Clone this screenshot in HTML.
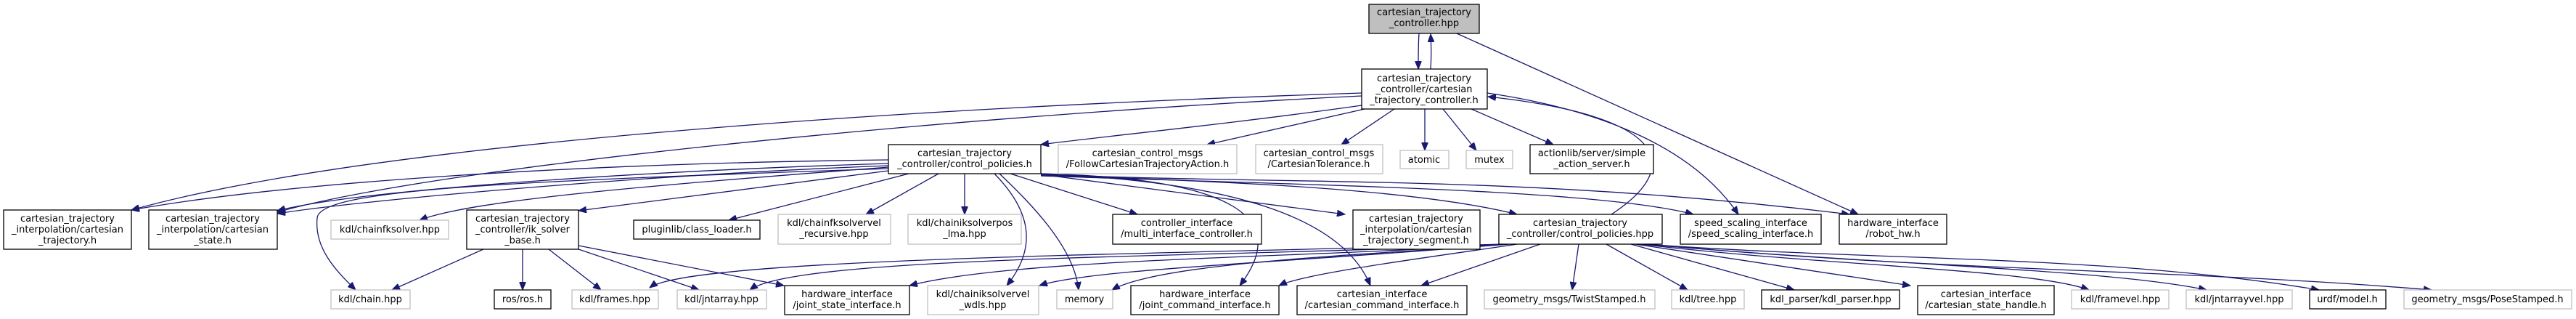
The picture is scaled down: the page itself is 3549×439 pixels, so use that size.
<!DOCTYPE html>
<html><head><meta charset="utf-8"><style>
html,body{margin:0;padding:0;background:#fff;}
svg{display:block;}
text{font-family:"DejaVu Sans","Liberation Sans",sans-serif;font-size:13px;fill:#000;text-anchor:middle;}
.e{fill:none;stroke:#191970;stroke-width:1.3;}
.b{fill:#fff;stroke:#000;stroke-width:1.3;}
.g{fill:#fff;stroke:#bfbfbf;stroke-width:1.3;}
</style></head><body>
<svg width="3549" height="439" viewBox="0 0 3549 439" xmlns="http://www.w3.org/2000/svg">
<defs><marker id="a" markerUnits="userSpaceOnUse" markerWidth="12" markerHeight="9" refX="11" refY="4.5" orient="auto"><path d="M0,0 L11,4.5 L0,9 z" fill="#191970" stroke="#191970"/></marker></defs>
<g marker-end="url(#a)">
<path class="e" d="M1955,46 C1954,60 1954,75 1954,95"/>
<path class="e" d="M1971,95 C1972,80 1972,65 1971,47"/>
<path class="e" d="M2007,46 L2560,295"/>
<path class="e" d="M1876,145 C1700,170 1500,190 1434,199"/>
<path class="e" d="M1880,150 L1663,199"/>
<path class="e" d="M1921,150 L1848,199"/>
<path class="e" d="M1963,150 L1963,207"/>
<path class="e" d="M1988,150 L2034,207"/>
<path class="e" d="M2027,150 L2140,199"/>
<path class="e" d="M1876,128 C1200,150 500,200 181,289"/>
<path class="e" d="M1876,132 C1300,160 600,230 382,292"/>
<path class="e" d="M2049,128 C2200,150 2330,200 2395,295"/>
<path class="e" d="M2220,295 C2320,230 2300,160 2050,133"/>
<path class="e" d="M1224,220 C800,225 400,250 181,289"/>
<path class="e" d="M1224,225 C900,235 500,260 382,290"/>
<path class="e" d="M1224,228 C900,240 500,275 382,294"/>
<path class="e" d="M1224,230 C900,255 650,275 578,303"/>
<path class="e" d="M1224,235 L797,290"/>
<path class="e" d="M1224,232 C700,250 440,260 437,300 C433,340 460,370 490,399"/>
<path class="e" d="M1252,239 L1004,303"/>
<path class="e" d="M1293,239 L1193,295"/>
<path class="e" d="M1329,239 L1329,295"/>
<path class="e" d="M1370,239 C1420,290 1430,340 1387,393"/>
<path class="e" d="M1377,239 C1420,280 1480,340 1486,399"/>
<path class="e" d="M1392,239 L1567,295"/>
<path class="e" d="M1434,239 C1700,245 1780,300 1708,393"/>
<path class="e" d="M1434,240 L1853,295"/>
<path class="e" d="M1434,241 C1700,250 1950,260 2090,295"/>
<path class="e" d="M1434,242 C1800,255 2200,260 2333,295"/>
<path class="e" d="M1434,240 C1800,255 2100,240 2548,295"/>
<path class="e" d="M1434,239 C1700,250 1850,300 1888,393"/>
<path class="e" d="M666,343 L540,399"/>
<path class="e" d="M720,343 L720,399"/>
<path class="e" d="M756,343 L828,399"/>
<path class="e" d="M797,343 L963,399"/>
<path class="e" d="M797,338 L1080,393"/>
<path class="e" d="M2080,336 C1900,350 1600,360 1532,399"/>
<path class="e" d="M2075,336 C1800,360 1500,370 1432,393"/>
<path class="e" d="M2075,336 C1800,355 1400,355 1253,393"/>
<path class="e" d="M2070,336 C1700,355 1100,350 1033,399"/>
<path class="e" d="M2070,336 C1600,350 950,355 895,396"/>
<path class="e" d="M2090,336 C2000,350 1800,375 1762,393"/>
<path class="e" d="M2122,336 L1958,393"/>
<path class="e" d="M2175,336 L2166,399"/>
<path class="e" d="M2213,336 L2325,399"/>
<path class="e" d="M2247,336 L2472,399"/>
<path class="e" d="M2253,336 L2632,393"/>
<path class="e" d="M2260,336 C2500,365 2800,370 2878,399"/>
<path class="e" d="M2262,336 C2600,365 2900,370 3040,399"/>
<path class="e" d="M2265,336 C2600,360 2900,350 3195,399"/>
<path class="e" d="M2268,336 C2700,375 3000,370 3350,399"/>
</g>
<!-- nodes -->
<rect x="1886" y="6" width="152" height="40" fill="#bfbfbf" stroke="#000" stroke-width="1.3"/>
<text x="1962" y="21">cartesian_trajectory</text><text x="1962" y="36">_controller.hpp</text>

<rect class="b" x="1876" y="95" width="173" height="55"/>
<text x="1962" y="112">cartesian_trajectory</text><text x="1962" y="127">_controller/cartesian</text><text x="1962" y="142">_trajectory_controller.h</text>

<rect class="b" x="1224" y="199" width="210" height="40"/>
<text x="1329" y="215">cartesian_trajectory</text><text x="1329" y="230">_controller/control_policies.h</text>
<rect class="g" x="1458" y="199" width="246" height="40"/>
<text x="1581" y="215">cartesian_control_msgs</text><text x="1581" y="230">/FollowCartesianTrajectoryAction.h</text>
<rect class="g" x="1730" y="199" width="175" height="40"/>
<text x="1817" y="215">cartesian_control_msgs</text><text x="1817" y="230">/CartesianTolerance.h</text>
<rect class="g" x="1929" y="207" width="67" height="25"/><text x="1962" y="224">atomic</text>
<rect class="g" x="2020" y="207" width="64" height="25"/><text x="2052" y="224">mutex</text>
<rect class="b" x="2108" y="199" width="170" height="40"/>
<text x="2193" y="215">actionlib/server/simple</text><text x="2193" y="230">_action_server.h</text>

<rect class="b" x="5" y="289" width="176" height="54"/>
<text x="93" y="305">cartesian_trajectory</text><text x="93" y="320">_interpolation/cartesian</text><text x="93" y="335">_trajectory.h</text>
<rect class="b" x="205" y="289" width="177" height="54"/>
<text x="293" y="305">cartesian_trajectory</text><text x="293" y="320">_interpolation/cartesian</text><text x="293" y="335">_state.h</text>
<rect class="g" x="456" y="303" width="162" height="26"/><text x="537" y="320">kdl/chainfksolver.hpp</text>
<rect class="b" x="643" y="289" width="154" height="54"/>
<text x="720" y="305">cartesian_trajectory</text><text x="720" y="320">_controller/ik_solver</text><text x="720" y="335">_base.h</text>
<rect class="b" x="873" y="303" width="174" height="26"/><text x="960" y="320">pluginlib/class_loader.h</text>
<rect class="g" x="1072" y="295" width="155" height="41"/>
<text x="1149" y="311">kdl/chainfksolvervel</text><text x="1149" y="326">_recursive.hpp</text>
<rect class="g" x="1251" y="295" width="156" height="41"/>
<text x="1329" y="311">kdl/chainiksolverpos</text><text x="1329" y="326">_lma.hpp</text>
<rect class="b" x="1533" y="295" width="205" height="41"/>
<text x="1635" y="311">controller_interface</text><text x="1635" y="326">/multi_interface_controller.h</text>
<rect class="b" x="1864" y="289" width="175" height="54"/>
<text x="1951" y="305">cartesian_trajectory</text><text x="1951" y="320">_interpolation/cartesian</text><text x="1951" y="335">_trajectory_segment.h</text>
<rect class="b" x="2065" y="295" width="225" height="41"/>
<text x="2177" y="311">cartesian_trajectory</text><text x="2177" y="326">_controller/control_policies.hpp</text>
<rect class="b" x="2315" y="295" width="194" height="41"/>
<text x="2412" y="311">speed_scaling_interface</text><text x="2412" y="326">/speed_scaling_interface.h</text>
<rect class="b" x="2534" y="295" width="148" height="41"/>
<text x="2608" y="311">hardware_interface</text><text x="2608" y="326">/robot_hw.h</text>

<rect class="g" x="456" y="399" width="109" height="26"/><text x="510" y="416">kdl/chain.hpp</text>
<rect class="b" x="681" y="399" width="78" height="26"/><text x="720" y="416">ros/ros.h</text>
<rect class="g" x="788" y="399" width="119" height="26"/><text x="847" y="416">kdl/frames.hpp</text>
<rect class="g" x="933" y="399" width="123" height="26"/><text x="994" y="416">kdl/jntarray.hpp</text>
<rect class="b" x="1081" y="393" width="172" height="40"/>
<text x="1167" y="409">hardware_interface</text><text x="1167" y="424">/joint_state_interface.h</text>
<rect class="g" x="1278" y="393" width="153" height="40"/>
<text x="1354" y="409">kdl/chainiksolvervel</text><text x="1354" y="424">_wdls.hpp</text>
<rect class="g" x="1456" y="399" width="77" height="26"/><text x="1494" y="416">memory</text>
<rect class="b" x="1558" y="393" width="204" height="40"/>
<text x="1660" y="409">hardware_interface</text><text x="1660" y="424">/joint_command_interface.h</text>
<rect class="b" x="1787" y="393" width="234" height="40"/>
<text x="1904" y="409">cartesian_interface</text><text x="1904" y="424">/cartesian_command_interface.h</text>
<rect class="g" x="2045" y="399" width="235" height="26"/><text x="2162" y="416">geometry_msgs/TwistStamped.h</text>
<rect class="g" x="2303" y="399" width="100" height="26"/><text x="2353" y="416">kdl/tree.hpp</text>
<rect class="b" x="2427" y="399" width="190" height="26"/><text x="2522" y="416">kdl_parser/kdl_parser.hpp</text>
<rect class="b" x="2642" y="393" width="188" height="40"/>
<text x="2736" y="409">cartesian_interface</text><text x="2736" y="424">/cartesian_state_handle.h</text>
<rect class="g" x="2854" y="399" width="134" height="26"/><text x="2921" y="416">kdl/framevel.hpp</text>
<rect class="g" x="3012" y="399" width="146" height="26"/><text x="3085" y="416">kdl/jntarrayvel.hpp</text>
<rect class="b" x="3182" y="399" width="105" height="26"/><text x="3234" y="416">urdf/model.h</text>
<rect class="g" x="3312" y="399" width="231" height="26"/><text x="3427" y="416">geometry_msgs/PoseStamped.h</text>
</svg>
</body></html>
